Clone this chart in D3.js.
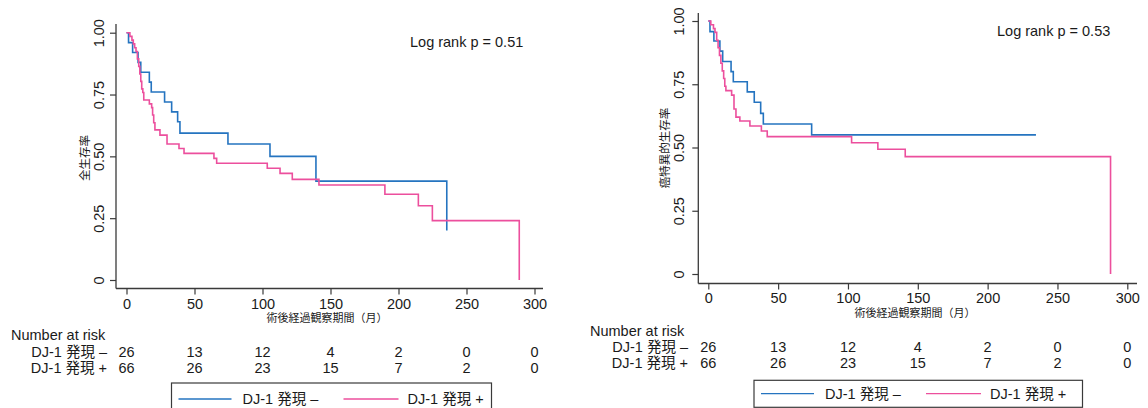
<!DOCTYPE html>
<html>
<head>
<meta charset="utf-8">
<script src="https://cdn.jsdelivr.net/npm/d3@7"></script>
<style>
  body { margin: 0; background: #fff; }
  svg text { font-family: "Liberation Sans", "Noto Sans CJK JP", sans-serif; fill: #1a1a1a; }
</style>
</head>
<body>
<svg id="chart" width="1148" height="408"></svg>
<script>
// Kaplan–Meier step points (time in months, survival fraction)
// Overall survival, DJ-1 expression negative
const osNegTime = [0, 1.5, 4.5, 8.5, 10.5, 16.8, 18.2, 28, 33.2, 37.6, 39.3, 74.6, 105.5, 139.3, 235.5];
const osNegSurv = [1, 0.96, 0.92, 0.88, 0.84, 0.80, 0.76, 0.72, 0.68, 0.64, 0.594, 0.55, 0.50, 0.40, 0.20];
// Overall survival, DJ-1 expression positive
const osPosTime = [0, 2.5, 4, 5, 6, 7, 8, 9, 9.8, 10.5, 11.2, 12, 12.7, 16.8, 18.5, 19.2, 20, 20.9, 24.6, 29.8, 38.6, 42.3, 64.3, 66.3, 103.5, 112.9, 121.9, 141.5, 190, 214.6, 224.9, 288.8];
const osPosSurv = [1, 0.985, 0.97, 0.955, 0.939, 0.924, 0.894, 0.864, 0.833, 0.803, 0.773, 0.758, 0.728, 0.712, 0.697, 0.667, 0.636, 0.607, 0.586, 0.55, 0.532, 0.512, 0.492, 0.472, 0.452, 0.431, 0.407, 0.384, 0.347, 0.30, 0.24, 0];
// Cancer-specific survival, DJ-1 expression negative
const cssNegTime = [0, 1.2, 4, 8.3, 10.3, 16.3, 17.9, 27.9, 32.9, 37.5, 39.4, 74, 234.6];
const cssNegSurv = [1, 0.958, 0.921, 0.881, 0.84, 0.80, 0.76, 0.72, 0.679, 0.635, 0.593, 0.55, 0.55];
// Cancer-specific survival, DJ-1 expression positive
const cssPosTime = [0, 1.8, 3.7, 4.8, 6, 7, 8, 9, 10, 11, 11.8, 12.6, 16.7, 18.4, 19.8, 22.6, 29.8, 38, 42.2, 102.6, 121.4, 141, 288];
const cssPosSurv = [1, 0.985, 0.97, 0.955, 0.924, 0.894, 0.864, 0.833, 0.803, 0.773, 0.742, 0.725, 0.707, 0.652, 0.62, 0.605, 0.585, 0.565, 0.543, 0.519, 0.493, 0.464, 0];

// Axis ticks and labels
const timeTicks = [0, 50, 100, 150, 200, 250, 300];
const survTicks = [0, 0.25, 0.5, 0.75, 1];
const survTickLabels = ["0", "0.25", "0.50", "0.75", "1.00"];

// Groups and numbers at risk at each time tick
const groupNames = ["DJ-1 発現 –", "DJ-1 発現 +"];
const atRiskNeg = [26, 13, 12, 4, 2, 0, 0];
const atRiskPos = [66, 26, 23, 15, 7, 2, 0];

const pValues = ["Log rank p = 0.51", "Log rank p = 0.53"];
const yTitles = ["全生存率", "癌特異的生存率"];
const xTitle = "術後経過観察期間（月）";

const colors = ["#2574c0", "#ec4f9d"];

const svg = d3.select("#chart");
svg.append("rect").attr("width", 1148).attr("height", 408).attr("fill", "#fff");

const panels = [
  {
    neg: [osNegTime, osNegSurv], pos: [osPosTime, osPosSurv], yTitle: yTitles[0], pText: pValues[0],
    xr: [126.5, 534.5], yr: [280, 32.7], axisX: 116, axisTop: 24, axisY: 288.5, axisRight: 543,
    yLabOff: -17, xLabOff: 4, titleX: 327, titleY: 318, yTitleX: 85, yTitleY: 158,
    pX: 410, pY: 46.5, nrX: 11, nrY: 340, rowY: [356.5, 372.5], rowRight: 107,
    leg: { x: 171.5, y: 383, w: 320, h: 32, lineY: 16, textY: 20.5 }
  },
  {
    neg: [cssNegTime, cssNegSurv], pos: [cssPosTime, cssPosSurv], yTitle: yTitles[1], pText: pValues[1],
    xr: [708.3, 1127.3], yr: [274, 21], axisX: 698.3, axisTop: 13, axisY: 283.5, axisRight: 1137,
    yLabOff: -19.3, xLabOff: 3.5, titleX: 915, titleY: 313, yTitleX: 665, yTitleY: 148,
    pX: 997, pY: 35.5, nrX: 590, nrY: 335.5, rowY: [352, 368], rowRight: 688,
    leg: { x: 754, y: 380.3, w: 328.5, h: 27, lineY: 13.4, textY: 18.4 }
  }
];

panels.forEach(p => {
  const g = svg.append("g");
  const x = d3.scaleLinear().domain([0, 300]).range(p.xr);
  const y = d3.scaleLinear().domain([0, 1]).range(p.yr);

  // Axis lines (Stata style, offset from the plotted region)
  g.append("line").attr("x1", p.axisX).attr("x2", p.axisX).attr("y1", p.axisTop).attr("y2", p.axisY)
    .attr("stroke", "#3a3a3a").attr("stroke-width", 1.3);
  g.append("line").attr("x1", p.axisX).attr("x2", p.axisRight).attr("y1", p.axisY).attr("y2", p.axisY)
    .attr("stroke", "#3a3a3a").attr("stroke-width", 1.3);

  // Y axis ticks with rotated labels
  const yAxis = d3.axisLeft(y).tickValues(survTicks).tickSize(6).tickSizeOuter(0)
    .tickFormat((d, i) => survTickLabels[i]);
  const ya = g.append("g").attr("transform", `translate(${p.axisX},0)`).call(yAxis);
  ya.select(".domain").remove();
  ya.selectAll(".tick line").attr("stroke", "#3a3a3a").attr("stroke-width", 1.2);
  ya.selectAll(".tick text")
    .attr("x", null).attr("dy", null)
    .attr("transform", `translate(${p.yLabOff},0) rotate(-90)`)
    .attr("text-anchor", "middle").attr("dy", "0.36em")
    .style("font-size", "14.5px").style("font-family", "Liberation Sans, sans-serif").attr("fill", "#1a1a1a");

  // X axis ticks
  const xAxis = d3.axisBottom(x).tickValues(timeTicks).tickSize(6).tickSizeOuter(0).tickPadding(p.xLabOff);
  const xa = g.append("g").attr("transform", `translate(0,${p.axisY})`).call(xAxis);
  xa.select(".domain").remove();
  xa.selectAll(".tick line").attr("stroke", "#3a3a3a").attr("stroke-width", 1.2);
  xa.selectAll(".tick text").style("font-size", "14.5px")
    .style("font-family", "Liberation Sans, sans-serif").attr("fill", "#1a1a1a");

  // Axis titles
  g.append("text").attr("x", p.titleX).attr("y", p.titleY).attr("dy", "0.36em")
    .attr("text-anchor", "middle").style("font-size", "11px").text(xTitle);
  g.append("text").attr("transform", `translate(${p.yTitleX},${p.yTitleY}) rotate(-90)`)
    .attr("dy", "0.36em").attr("text-anchor", "middle").style("font-size", "11.5px").text(p.yTitle);

  // Log-rank annotation
  g.append("text").attr("x", p.pX).attr("y", p.pY).style("font-size", "14.5px").text(p.pText);

  // Survival curves
  const line = d3.line().x(d => x(d[0])).y(d => y(d[1])).curve(d3.curveStepAfter);
  [p.neg, p.pos].forEach((ser, i) => {
    const pts = ser[0].map((t, k) => [t, ser[1][k]]);
    g.append("path").datum(pts).attr("d", line).attr("fill", "none")
      .attr("stroke", colors[i]).attr("stroke-width", 1.6);
  });

  // Number-at-risk table
  g.append("text").attr("x", p.nrX).attr("y", p.nrY).style("font-size", "14.5px").text("Number at risk");
  [atRiskNeg, atRiskPos].forEach((row, i) => {
    g.append("text").attr("x", p.rowRight).attr("y", p.rowY[i]).attr("text-anchor", "end")
      .style("font-size", "14.5px").text(groupNames[i]);
    g.selectAll(null).data(row).join("text")
      .attr("x", (d, k) => x(timeTicks[k])).attr("y", p.rowY[i]).attr("text-anchor", "middle")
      .style("font-size", "14.5px").text(d => d);
  });

  // Legend
  const L = p.leg;
  const lg = g.append("g").attr("transform", `translate(${L.x},${L.y})`);
  lg.append("rect").attr("width", L.w).attr("height", L.h).attr("fill", "#fff")
    .attr("stroke", "#3a3a3a").attr("stroke-width", 1.2);
  const items = [[7, 60, 71], [172, 227, 236]];
  items.forEach((it, i) => {
    lg.append("line").attr("x1", it[0]).attr("x2", it[1]).attr("y1", L.lineY).attr("y2", L.lineY)
      .attr("stroke", colors[i]).attr("stroke-width", 1.3);
    lg.append("text").attr("x", it[2]).attr("y", L.textY).style("font-size", "14.5px").text(groupNames[i]);
  });
});
</script>
</body>
</html>
